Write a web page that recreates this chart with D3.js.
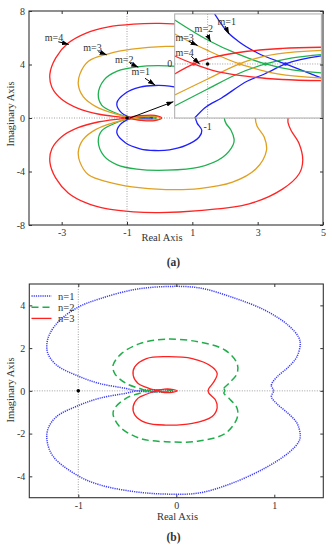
<!DOCTYPE html>
<html>
<head>
<meta charset="utf-8">
<script src="https://cdn.jsdelivr.net/npm/d3@7"></script>
<style>
	body { margin: 0; background: #fff; }
	svg text { font-family: "Liberation Serif", "Times New Roman", serif; fill: #333; }
</style>
</head>
<body>
<svg id="chart" width="332" height="550"></svg>
<script>

/***************************************************************************/
/********************************************************** DONNEES *******/
/***************************************************************************/

// panel (a) : ticks
const aXTicks = [-3, -1, 1, 3, 5];
const aYTicks = [-8, -4, 0, 4, 8];
const mLabels = ["m=1", "m=2", "m=3", "m=4"];

// panel (a) : closed loops (real, imaginary)
const locusM1 = [[1.1,0],[1.15,0.4],[1.29,0.92],[1.21,1.42],[0.8,2.05],[0.3,2.38],[-0.15,2.43],[-0.6,2.3],[-1.05,1.85],[-1.31,1.12],[-1.21,0.5],[-0.9,0.05],[-0.6,-0.05],[-0.3,-0.06],[-0.2,0],[-0.3,0.06],[-0.6,0.05],[-0.9,-0.05],[-1.21,-0.5],[-1.31,-1.12],[-1.05,-1.85],[-0.6,-2.3],[-0.15,-2.43],[0.3,-2.38],[0.8,-2.05],[1.21,-1.42],[1.29,-0.92],[1.15,-0.4]];
const locusM2 = [[1.98,0],[2.03,0.4],[2.18,0.9],[2.28,1.6],[2.25,2.0],[1.93,2.93],[1.21,3.67],[0.2,3.9],[-0.7,3.82],[-1.3,3.5],[-1.7,2.85],[-1.88,1.75],[-1.77,0.95],[-1.42,0.45],[-0.95,0.05],[-0.6,-0.08],[-0.25,-0.1],[-0.1,0],[-0.25,0.1],[-0.6,0.08],[-0.95,-0.05],[-1.42,-0.45],[-1.77,-0.95],[-1.88,-1.75],[-1.7,-2.85],[-1.3,-3.5],[-0.7,-3.82],[0.2,-3.9],[1.21,-3.67],[1.93,-2.93],[2.25,-2.0],[2.28,-1.6],[2.18,-0.9],[2.03,-0.4]];
const locusM3 = [[2.93,0],[2.98,0.6],[3.2,1.42],[3.27,2.42],[2.95,3.8],[2.23,4.8],[1.21,5.28],[0.19,5.35],[-0.85,5.15],[-1.57,4.8],[-2.18,4.25],[-2.44,3.3],[-2.49,2.5],[-2.34,1.6],[-1.95,0.85],[-1.35,0.3],[-0.95,0.04],[-0.5,-0.12],[-0.12,-0.13],[0.02,0],[-0.12,0.13],[-0.5,0.12],[-0.95,-0.04],[-1.35,-0.3],[-1.95,-0.85],[-2.34,-1.6],[-2.49,-2.5],[-2.44,-3.3],[-2.18,-4.25],[-1.57,-4.8],[-0.85,-5.15],[0.19,-5.35],[1.21,-5.28],[2.23,-4.8],[2.95,-3.8],[3.27,-2.42],[3.2,-1.42],[2.98,-0.6]];
const locusM4 = [[3.93,0],[3.93,0.35],[4.02,0.92],[4.27,1.92],[4.38,3.17],[4.27,4.17],[3.77,5.3],[2.74,6.42],[1.2,6.92],[0.0,7.07],[-0.8,7.02],[-1.6,6.8],[-2.25,6.35],[-2.8,5.6],[-3.18,4.5],[-3.36,3.3],[-3.3,2.3],[-3.0,1.4],[-2.5,0.72],[-1.85,0.28],[-1.15,0.04],[-0.6,-0.17],[-0.15,-0.2],[0.06,0],[-0.15,0.2],[-0.6,0.17],[-1.15,-0.04],[-1.85,-0.28],[-2.5,-0.72],[-3.0,-1.4],[-3.3,-2.3],[-3.36,-3.3],[-3.18,-4.5],[-2.8,-5.6],[-2.25,-6.35],[-1.6,-6.8],[-0.8,-7.02],[0.0,-7.07],[1.2,-6.92],[2.74,-6.42],[3.77,-5.3],[4.27,-4.17],[4.38,-3.17],[4.27,-1.92],[4.02,-0.92],[3.93,-0.35]];

// panel (a) : zoom around (-1, 0), two branches per m
const zoomM1a = [[-0.93,0.5],[-0.81,0.33],[-0.69,0.225],[-0.5,0.11],[-0.22,0],[0.14,-0.14]];
const zoomM1b = [[-1.13,-0.54],[-1.03,-0.44],[-0.86,-0.34],[-0.6,-0.17],[-0.43,-0.1],[-0.22,0],[0.14,0.08]];
const zoomM2a = [[-1.33,0.44],[-1.0,0.24],[-0.7,0.1],[-0.42,0],[-0.15,-0.06],[0.14,-0.09]];
const zoomM2b = [[-1.33,-0.42],[-1.0,-0.25],[-0.7,-0.1],[-0.42,0],[-0.15,0.06],[0.14,0.093]];
const zoomM3a = [[-1.33,0.3],[-1.0,0.135],[-0.68,0],[-0.6,-0.025],[-0.3,-0.1],[0.14,-0.14]];
const zoomM3b = [[-1.33,-0.31],[-1.0,-0.15],[-0.68,0],[-0.6,0.03],[-0.3,0.1],[0.14,0.135]];
const zoomM4a = [[-1.33,0.08],[-1.14,0],[-0.95,-0.065],[-0.6,-0.125],[-0.25,-0.155],[0.14,-0.167]];
const zoomM4b = [[-1.33,-0.1],[-1.14,0],[-0.95,0.065],[-0.6,0.127],[-0.25,0.155],[0.14,0.167]];
const zoomCross = [-0.22, -0.42, -0.68, -1.14];

// panel (b)
const bXTicks = [-1, 0, 1];
const bYTicks = [-4, -2, 0, 2, 4];
const nLabels = ["n=1", "n=2", "n=3"];
const nyqN1 = [[0.993,0],[0.97,0.27],[1.027,0.65],[1.145,1.12],[1.23,1.59],[1.265,2.21],[1.247,2.52],[1.145,3.06],[0.91,3.76],[0.57,4.38],[0.23,4.82],[-0.11,4.88],[-0.44,4.73],[-0.78,4.31],[-1.0,3.92],[-1.19,3.3],[-1.29,2.68],[-1.32,2.21],[-1.31,1.74],[-1.22,1.2],[-1.0,0.69],[-0.78,0.34],[-0.51,0.11],[-0.4,0],[-0.25,-0.05],[-0.1,-0.04],[-0.03,0],[-0.1,0.04],[-0.25,0.05],[-0.4,0],[-0.51,-0.11],[-0.78,-0.34],[-1.0,-0.69],[-1.22,-1.2],[-1.306,-1.74],[-1.32,-2.3],[-1.255,-3.08],[-1.0,-3.98],[-0.78,-4.4],[-0.44,-4.71],[-0.11,-4.83],[0.23,-4.78],[0.57,-4.32],[0.91,-3.6],[1.145,-2.9],[1.247,-2.4],[1.265,-2.1],[1.23,-1.5],[1.14,-1.05],[1.03,-0.62],[0.97,-0.27]];
const nyqN2 = [[0.495,0],[0.485,0.11],[0.535,0.34],[0.62,0.81],[0.62,1.28],[0.5,1.9],[0.23,2.29],[-0.11,2.42],[-0.373,2.21],[-0.56,1.74],[-0.645,1.2],[-0.628,0.81],[-0.51,0.34],[-0.373,0.11],[-0.3,0],[-0.2,-0.05],[-0.08,-0.04],[-0.04,0],[-0.08,0.04],[-0.2,0.05],[-0.3,0],[-0.373,-0.11],[-0.51,-0.34],[-0.628,-0.81],[-0.645,-1.1],[-0.577,-1.68],[-0.373,-2.22],[-0.11,-2.38],[0.23,-2.35],[0.5,-1.99],[0.62,-1.28],[0.62,-0.81],[0.535,-0.34],[0.485,-0.11]];
const nyqN3 = [[0.325,0],[0.332,0.11],[0.383,0.42],[0.417,0.81],[0.366,1.12],[0.163,1.51],[-0.109,1.6],[-0.305,1.51],[-0.424,1.12],[-0.44,0.73],[-0.39,0.34],[-0.305,0.16],[-0.22,0.03],[-0.12,-0.08],[-0.03,-0.06],[0.01,0],[-0.03,0.06],[-0.12,0.08],[-0.22,-0.03],[-0.305,-0.16],[-0.39,-0.34],[-0.44,-0.73],[-0.424,-1.12],[-0.305,-1.5],[-0.109,-1.6],[0.163,-1.52],[0.366,-1.2],[0.417,-0.8],[0.4,-0.43],[0.332,-0.11]];

// annotations of panel (a), in data units : text centre, arrow start, arrow tip
const mTags = [
	{ text: "m=1", tx: -0.578, ty: 3.44, x1: -0.449, y1: 2.97, x2: -0.143, y2: 2.47 },
	{ text: "m=2", tx: -1.086, ty: 4.41, x1: -0.908, y1: 4.09, x2: -0.654, y2: 3.80 },
	{ text: "m=3", tx: -2.056, ty: 5.27, x1: -1.878, y1: 4.96, x2: -1.621, y2: 4.72 },
	{ text: "m=4", tx: -3.235, ty: 6.02, x1: -3.103, y1: 5.70, x2: -2.78, y2: 5.5 }
];
const zoomTags = [
	{ text: "m=1", tx: -0.808, ty: 0.42, x1: -0.826, y1: 0.38, x2: -0.785, y2: 0.30 },
	{ text: "m=2", tx: -1.038, ty: 0.35, x1: -1.003, y1: 0.293, x2: -0.971, y2: 0.225 },
	{ text: "m=3", tx: -1.23, ty: 0.263, x1: -1.19, y1: 0.227, x2: -1.1, y2: 0.185 },
	{ text: "m=4", tx: -1.23, ty: 0.117, x1: -1.164, y1: 0.077, x2: -1.08, y2: 0.0 }
];

/***************************************************************************/
/********************************************************** DESSIN ********/
/***************************************************************************/

const svg = d3.select("#chart");

const colorsA = ["#1f1fff", "#1fb04f", "#e0a020", "#ff2424"];
const colorsB = ["#3b3bff", "#1fae4a", "#ff2020"];

svg.append("defs").append("marker")
	.attr("id", "head")
	.attr("markerUnits", "userSpaceOnUse")
	.attr("markerWidth", 7).attr("markerHeight", 5)
	.attr("refX", 7).attr("refY", 2.5)
	.attr("orient", "auto")
	.append("path")
	.attr("d", "M0,0 L7,2.5 L0,5 Z")
	.attr("fill", "#000");

function refLines(g, x, y) {
	const [l, r] = x.range(), [b, t] = y.range();
	g.append("line")
		.attr("x1", x(-1)).attr("x2", x(-1)).attr("y1", t).attr("y2", b);
	g.append("line")
		.attr("x1", l).attr("x2", r).attr("y1", y(0)).attr("y2", y(0));
	g.selectAll("line")
		.attr("stroke", "#888")
		.attr("stroke-width", 0.8)
		.attr("stroke-dasharray", "1,1.5");
}

function axes(g, x, y, xt, yt) {
	const [l, r] = x.range(), [b, t] = y.range();
	const fmt = d => String(d);
	g.append("g").attr("transform", `translate(0,${b})`)
		.call(d3.axisBottom(x).tickValues(xt).tickSize(-3).tickPadding(4).tickFormat(fmt));
	g.append("g").attr("transform", `translate(0,${t})`)
		.call(d3.axisTop(x).tickValues(xt).tickSize(-3).tickFormat(""));
	g.append("g").attr("transform", `translate(${l},0)`)
		.call(d3.axisLeft(y).tickValues(yt).tickSize(-3).tickPadding(4).tickFormat(fmt));
	g.append("g").attr("transform", `translate(${r},0)`)
		.call(d3.axisRight(y).tickValues(yt).tickSize(-3).tickFormat(""));
	g.selectAll(".domain").remove();
	g.selectAll(".tick line").attr("stroke", "#333");
	g.selectAll(".tick text").attr("font-size", 10).attr("fill", "#333")
		.style("font-family", "'Liberation Serif', serif");
	g.append("rect")
		.attr("x", l).attr("y", t)
		.attr("width", r - l).attr("height", b - t)
		.attr("fill", "none")
		.attr("stroke", "#333")
		.attr("stroke-width", 1.1);
}

function titles(g, cx, by, cy) {
	g.append("text")
		.attr("x", cx).attr("y", by)
		.attr("text-anchor", "middle")
		.attr("font-size", 10.5)
		.text("Real Axis");
	g.append("text")
		.attr("transform", `translate(14,${cy}) rotate(-90)`)
		.attr("text-anchor", "middle")
		.attr("font-size", 10.5)
		.text("Imaginary Axis");
}

/************************************************************ PANEL (a) ***/

const xA = d3.scaleLinear().domain([-4, 5]).range([29, 323]);
const yA = d3.scaleLinear().domain([-8, 8]).range([225, 11]);
const gA = svg.append("g");

refLines(gA.append("g"), xA, yA);

const lineA = d3.line()
	.x(d => xA(d[0])).y(d => yA(d[1]))
	.curve(d3.curveCatmullRomClosed.alpha(0.5));

gA.selectAll("path.locus")
	.data([locusM1, locusM2, locusM3, locusM4])
	.enter()
	.append("path")
	.attr("class", "locus")
	.attr("d", lineA)
	.attr("fill", "none")
	.attr("stroke", (d, i) => colorsA[i])
	.attr("stroke-width", 1.3);

gA.append("circle")
	.attr("cx", xA(-1)).attr("cy", yA(0)).attr("r", 1.8)
	.attr("fill", "#000");

gA.selectAll("text.tag")
	.data(mTags)
	.enter()
	.append("text")
	.attr("class", "tag")
	.attr("x", d => xA(d.tx)).attr("y", d => yA(d.ty))
	.attr("dy", "0.35em")
	.attr("text-anchor", "middle")
	.attr("font-size", 10)
	.text(d => d.text);

gA.selectAll("line.tag")
	.data(mTags)
	.enter()
	.append("line")
	.attr("class", "tag")
	.attr("x1", d => xA(d.x1)).attr("y1", d => yA(d.y1))
	.attr("x2", d => xA(d.x2)).attr("y2", d => yA(d.y2))
	.attr("stroke", "#000")
	.attr("marker-end", "url(#head)");

// encart : zoom autour de (-1, 0)
const xIn = d3.scaleLinear().domain([-1.33, 0.14]).range([xA(0.46), xA(4.95)]);
const yIn = d3.scaleLinear().domain([-0.54, 0.5]).range([yA(0), yA(7.78)]);
const gIn = svg.append("g");

svg.select("defs").append("clipPath").attr("id", "clipIn")
	.append("rect")
	.attr("x", xIn.range()[0]).attr("y", yIn.range()[1])
	.attr("width", xIn.range()[1] - xIn.range()[0])
	.attr("height", yIn.range()[0] - yIn.range()[1]);

gIn.append("rect")
	.attr("x", xIn.range()[0]).attr("y", yIn.range()[1])
	.attr("width", xIn.range()[1] - xIn.range()[0])
	.attr("height", yIn.range()[0] - yIn.range()[1])
	.attr("fill", "#fff");

const inner = gIn.append("g").attr("clip-path", "url(#clipIn)");
refLines(inner, xIn, yIn);

const lineIn = d3.line()
	.x(d => xIn(d[0])).y(d => yIn(d[1]))
	.curve(d3.curveMonotoneX);

const zoomBranches = [zoomM1a, zoomM1b, zoomM2a, zoomM2b, zoomM3a, zoomM3b, zoomM4a, zoomM4b];
inner.selectAll("path.branch")
	.data(zoomBranches)
	.enter()
	.append("path")
	.attr("class", "branch")
	.attr("d", lineIn)
	.attr("fill", "none")
	.attr("stroke", (d, i) => colorsA[Math.floor(i / 2)])
	.attr("stroke-width", 1.3);

inner.selectAll("circle.cross")
	.data(zoomCross)
	.enter()
	.append("circle")
	.attr("class", "cross")
	.attr("cx", d => xIn(d)).attr("cy", yIn(0)).attr("r", 1.8)
	.attr("fill", (d, i) => colorsA[i]);

inner.append("circle")
	.attr("cx", xIn(-1)).attr("cy", yIn(0)).attr("r", 1.8)
	.attr("fill", "#000");

inner.selectAll("text.tag")
	.data(zoomTags)
	.enter()
	.append("text")
	.attr("class", "tag")
	.attr("x", d => xIn(d.tx)).attr("y", d => yIn(d.ty))
	.attr("dy", "0.35em")
	.attr("text-anchor", "middle")
	.attr("font-size", 10)
	.text(d => d.text);

inner.selectAll("line.tag")
	.data(zoomTags)
	.enter()
	.append("line")
	.attr("class", "tag")
	.attr("x1", d => xIn(d.x1)).attr("y1", d => yIn(d.y1))
	.attr("x2", d => xIn(d.x2)).attr("y2", d => yIn(d.y2))
	.attr("stroke", "#000")
	.attr("marker-end", "url(#head)");

gIn.append("rect")
	.attr("x", xIn.range()[0]).attr("y", yIn.range()[1])
	.attr("width", xIn.range()[1] - xIn.range()[0])
	.attr("height", yIn.range()[0] - yIn.range()[1])
	.attr("fill", "none")
	.attr("stroke", "#aaa")
	.attr("stroke-width", 1);

gIn.append("text")
	.attr("x", xIn.range()[0] - 2.5).attr("y", yIn(0))
	.attr("dy", "0.35em")
	.attr("text-anchor", "end")
	.attr("font-size", 10)
	.text("0");

gIn.append("text")
	.attr("x", xIn(-1)).attr("y", yIn.range()[0] + 11.5)
	.attr("text-anchor", "middle")
	.attr("font-size", 10)
	.text("-1");

// fleche vers l'encart
gA.append("line")
	.attr("x1", xA(-0.91)).attr("y1", yA(0))
	.attr("x2", xA(0.42)).attr("y2", yA(1.22))
	.attr("stroke", "#000")
	.attr("marker-end", "url(#head)");

axes(svg.append("g"), xA, yA, aXTicks, aYTicks);
titles(svg.append("g"), 162, 241, 114);

svg.append("text")
	.attr("x", 173.5).attr("y", 265.5)
	.attr("text-anchor", "middle")
	.attr("font-size", 11.5)
	.attr("font-weight", "bold")
	.text("(a)");

/************************************************************ PANEL (b) ***/

const xB = d3.scaleLinear().domain([-1.5, 1.5]).range([29.3, 323.3]);
const yB = d3.scaleLinear().domain([-5, 5]).range([497.7, 284]);
const gB = svg.append("g");

refLines(gB.append("g"), xB, yB);

const lineB = d3.line()
	.x(d => xB(d[0])).y(d => yB(d[1]))
	.curve(d3.curveCatmullRomClosed.alpha(0.5));

const dashB = ["1.2,1", "7,4", null];
const widthB = [1.5, 1.5, 1.3];

gB.selectAll("path.nyq")
	.data([nyqN1, nyqN2, nyqN3])
	.enter()
	.append("path")
	.attr("class", "nyq")
	.attr("d", lineB)
	.attr("fill", "none")
	.attr("stroke", (d, i) => colorsB[i])
	.attr("stroke-width", (d, i) => widthB[i])
	.attr("stroke-dasharray", (d, i) => dashB[i]);

gB.append("circle")
	.attr("cx", xB(-1)).attr("cy", yB(0)).attr("r", 1.8)
	.attr("fill", "#000");

// legende
const legend = gB.selectAll("g.leg")
	.data(nLabels)
	.enter()
	.append("g")
	.attr("class", "leg")
	.attr("transform", (d, i) => `translate(31.5,${296 + i * 11.2})`);

legend.append("line")
	.attr("x1", 0).attr("x2", 20)
	.attr("stroke", (d, i) => colorsB[i])
	.attr("stroke-width", (d, i) => widthB[i])
	.attr("stroke-dasharray", (d, i) => dashB[i]);

legend.append("text")
	.attr("x", 26.5)
	.attr("dy", "0.35em")
	.attr("font-size", 10.5)
	.text(d => d);

axes(svg.append("g"), xB, yB, bXTicks, bYTicks);
titles(svg.append("g"), 177.5, 520, 390);

svg.append("text")
	.attr("x", 173.5).attr("y", 541)
	.attr("text-anchor", "middle")
	.attr("font-size", 11.5)
	.attr("font-weight", "bold")
	.text("(b)");

</script>
</body>
</html>
